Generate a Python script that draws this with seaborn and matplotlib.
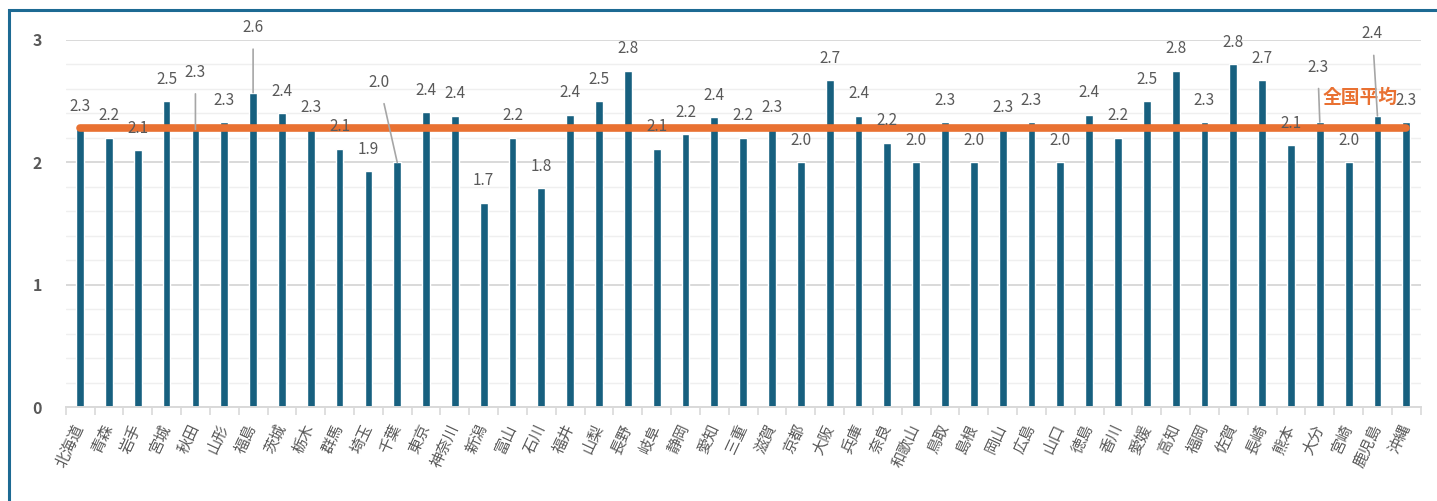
import numpy as np
import pandas as pd
import matplotlib
matplotlib.use("Agg")
import matplotlib.pyplot as plt
import seaborn as sns
from matplotlib.patches import Rectangle
from matplotlib.ticker import MultipleLocator

# 都道府県別の値
prefectures = [
    "北海道", "青森", "岩手", "宮城", "秋田", "山形", "福島", "茨城", "栃木", "群馬",
    "埼玉", "千葉", "東京", "神奈川", "新潟", "富山", "石川", "福井", "山梨", "長野",
    "岐阜", "静岡", "愛知", "三重", "滋賀", "京都", "大阪", "兵庫", "奈良", "和歌山",
    "鳥取", "島根", "岡山", "広島", "山口", "徳島", "香川", "愛媛", "高知", "福岡",
    "佐賀", "長崎", "熊本", "大分", "宮崎", "鹿児島", "沖縄",
]
values = [
    2.28, 2.20, 2.10, 2.50, 2.27, 2.33, 2.57, 2.40, 2.27, 2.11,
    1.93, 2.00, 2.41, 2.38, 1.67, 2.20, 1.79, 2.39, 2.50, 2.75,
    2.11, 2.23, 2.37, 2.20, 2.27, 2.00, 2.67, 2.38, 2.16, 2.00,
    2.33, 2.00, 2.27, 2.33, 2.00, 2.39, 2.20, 2.50, 2.75, 2.33,
    2.80, 2.67, 2.14, 2.33, 2.00, 2.38, 2.33,
]
national_average = 2.28
average_label = "全国平均"

# ラベルを引出線付きで離して置く県 (dx, dy: ピクセル)
label_shift = {
    "秋田": (0, 57),
    "福島": (0, 65),
    "千葉": (-18, 80),
    "大分": (-2, 55),
    "鹿児島": (-5, 82),
}

BAR = "#17607F"
ORANGE = "#E97132"
TEXT = "#595959"
GRID = "#D9D9D9"
MINOR_GRID = "#EFEFEF"

sns.set_theme(style="white")
plt.rcParams["font.family"] = ["Noto Sans CJK JP", "DejaVu Sans"]

DPI = 100
W, H = 1437, 501
fig = plt.figure(figsize=(W / DPI, H / DPI), dpi=DPI)
left, right, bottom_px, top_px = 65.7, 1420.7, 407.3, 40.0
ax = fig.add_axes([left / W, (H - bottom_px) / H, (right - left) / W, (bottom_px - top_px) / H])

df = pd.DataFrame({"pref": prefectures, "value": values})
sns.barplot(data=df, x="pref", y="value", color=BAR, width=0.27, saturation=1,
            ax=ax, zorder=2)

n = len(prefectures)
ax.set_xlim(-0.5, n - 0.5)
ax.set_ylim(0, 3)

# 目盛と補助線
ax.yaxis.set_major_locator(MultipleLocator(1))
ax.yaxis.set_minor_locator(MultipleLocator(0.2))
ax.grid(axis="y", which="major", color=GRID, lw=1.4, zorder=0)
ax.grid(axis="y", which="minor", color=MINOR_GRID, lw=1.0, zorder=0)
ax.set_axisbelow(True)
for s in ["top", "right", "left"]:
    ax.spines[s].set_visible(False)
ax.spines["bottom"].set_color(GRID)
ax.spines["bottom"].set_linewidth(1.4)
ax.set_xlabel("")
ax.set_ylabel("")
ax.tick_params(axis="y", which="both", length=0, pad=17, labelsize=11.5,
               labelcolor=TEXT)
for t in ax.get_yticklabels():
    t.set_fontweight("bold")
ax.set_xticks(np.arange(n + 1) - 0.5, minor=True)
ax.tick_params(axis="x", which="minor", length=5.5, width=1.2, color=GRID, bottom=True)
ax.tick_params(axis="x", which="major", length=0, pad=13)
ax.set_xticks(np.arange(n))
ax.set_xticklabels(prefectures, rotation=65, ha="right", va="center",
                   rotation_mode="anchor", fontsize=11, color=TEXT)

# 全国平均の線
ax.plot(np.arange(n), [national_average] * n, color=ORANGE, lw=5.5,
        solid_capstyle="round", zorder=3)
ax.annotate(average_label, xy=(n - 1 - 1.6, national_average), xytext=(0, 31 * 0.72),
            textcoords="offset points", ha="center", va="center", color=ORANGE,
            fontsize=13.5, fontweight="bold", zorder=5, annotation_clip=False)

# 値ラベル
px = 0.72
for i, (p, v) in enumerate(zip(prefectures, values)):
    if p in label_shift:
        dx, dy = label_shift[p]
        ax.annotate(f"{v:.1f}", xy=(i, v), xytext=(dx * px, dy * px),
                    textcoords="offset points", ha="center", va="center",
                    fontsize=11, color=TEXT, zorder=5, annotation_clip=False,
                    arrowprops=dict(arrowstyle="-", color="#A6A6A6", lw=1.2,
                                    shrinkA=7, shrinkB=0))
    else:
        ax.annotate(f"{v:.1f}", xy=(i, v), xytext=(0, 22 * px),
                    textcoords="offset points", ha="center", va="center",
                    fontsize=11, color=TEXT, zorder=5, annotation_clip=False)

# 外枠
fig.patches.append(Rectangle((9 / W, -0.1), 1.2, (H - 10) / H + 0.1,
                             transform=fig.transFigure, fill=False,
                             edgecolor="#1D6A93", lw=2.2))

fig.savefig("out.png", dpi=DPI, facecolor="white")
